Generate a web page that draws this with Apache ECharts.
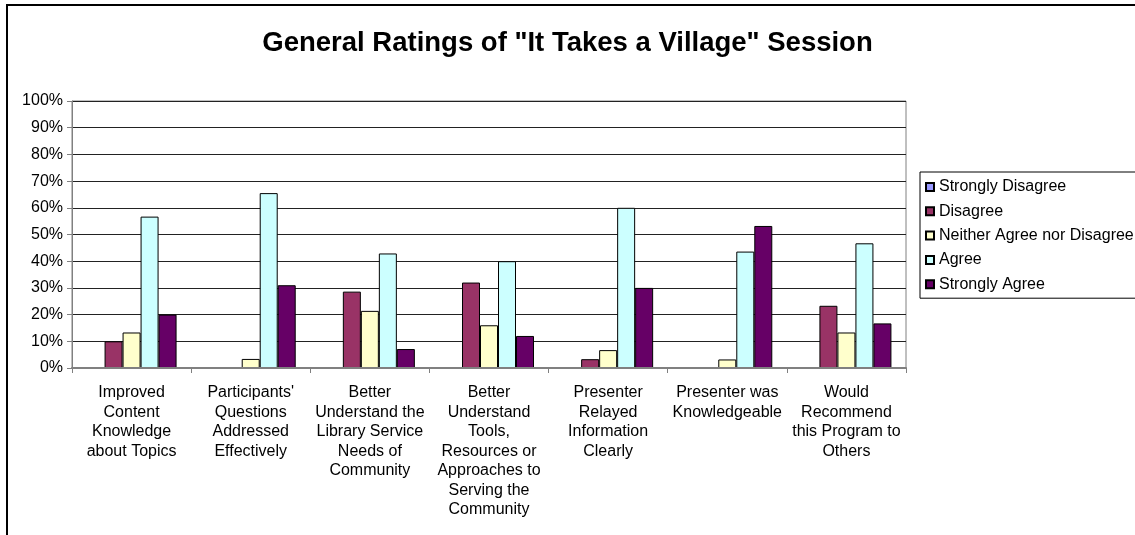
<!DOCTYPE html>
<html>
<head>
<meta charset="utf-8">
<title>General Ratings of "It Takes a Village" Session</title>
<script src="https://cdn.jsdelivr.net/npm/echarts@6/dist/echarts.min.js"></script>
<style>
  html, body { margin: 0; padding: 0; background: #fff; }
  #chart { width: 1135px; height: 535px; }
</style>
</head>
<body>
<div id="chart"></div>
<script>
// Survey statements (x-axis), wrapped the way they are printed under each group
const categories = [
  'Improved\nContent\nKnowledge\nabout Topics',
  "Participants'\nQuestions\nAddressed\nEffectively",
  'Better\nUnderstand the\nLibrary Service\nNeeds of\nCommunity',
  'Better\nUnderstand\nTools,\nResources or\nApproaches to\nServing the\nCommunity',
  'Presenter\nRelayed\nInformation\nClearly',
  'Presenter was\nKnowledgeable',
  'Would\nRecommend\nthis Program to\nOthers'
];

// Share of responses (%) per rating level
const stronglyDisagree = [0, 0, 0, 0, 0, 0, 0];
const disagree         = [10.0, 0, 28.6, 32.0, 3.3, 0, 23.3];
const neither          = [13.3, 3.4, 21.4, 16.0, 6.7, 3.2, 13.3];
const agree            = [56.7, 65.5, 42.9, 40.0, 60.0, 43.6, 46.7];
const stronglyAgree    = [20.0, 31.0, 7.1, 12.0, 30.0, 53.2, 16.7];

const seriesNames = ['Strongly Disagree', 'Disagree', 'Neither Agree nor Disagree', 'Agree', 'Strongly Agree'];
const seriesData = [stronglyDisagree, disagree, neither, agree, stronglyAgree];
const seriesColors = ['#9999FF', '#993366', '#FFFFCC', '#CCFFFF', '#660066'];

const FONT = 'Arial, "Liberation Sans", sans-serif';

const chart = echarts.init(document.getElementById('chart'), null, { renderer: 'canvas' });

chart.setOption({
  animation: false,
  backgroundColor: '#ffffff',
  title: {
    text: 'General Ratings of "It Takes a Village" Session',
    left: 'center',
    top: 24,
    textStyle: { fontFamily: FONT, fontWeight: 'bold', fontSize: 27.5, color: '#000' }
  },
  graphic: [{
    type: 'rect',
    shape: { x: 7, y: 5, width: 1300, height: 700 },
    style: { fill: 'none', stroke: '#000', lineWidth: 2 },
    silent: true
  }],
  legend: {
    orient: 'vertical',
    left: 920,
    top: 172,
    padding: [7, 12, 6, 5],
    itemGap: 8.3,
    itemWidth: 8,
    itemHeight: 8,
    icon: 'rect',
    borderColor: '#000',
    borderWidth: 1,
    textStyle: { fontFamily: FONT, fontSize: 16, color: '#000', lineHeight: 16 },
    data: seriesNames
  },
  grid: {
    left: 72,
    top: 101,
    width: 834,
    height: 267,
    show: true,
    borderColor: '#808080',
    borderWidth: 1,
    backgroundColor: 'transparent'
  },
  xAxis: {
    type: 'category',
    data: categories,
    z: 5,
    axisLine: { lineStyle: { color: '#808080', width: 2 } },
    axisTick: { show: true, length: 5, lineStyle: { color: '#808080' } },
    axisLabel: {
      interval: 0,
      margin: 15,
      fontFamily: FONT,
      fontSize: 16,
      lineHeight: 19.5,
      color: '#000',
      align: 'center'
    }
  },
  yAxis: {
    type: 'value',
    min: 0,
    max: 100,
    interval: 10,
    axisLine: { show: true, lineStyle: { color: '#808080', width: 1 } },
    axisTick: { show: true, length: 5, lineStyle: { color: '#808080' } },
    axisLabel: {
      formatter: '{value}%',
      margin: 9,
      fontFamily: FONT,
      fontSize: 16,
      color: '#000'
    },
    splitLine: { show: true, lineStyle: { color: '#222', width: 1 } }
  },
  series: seriesNames.map((name, i) => ({
    name: name,
    type: 'bar',
    data: seriesData[i],
    barWidth: 18,
    barGap: '0%',
    itemStyle: { color: seriesColors[i], borderColor: '#000', borderWidth: 1 }
  }))
});
</script>
</body>
</html>
